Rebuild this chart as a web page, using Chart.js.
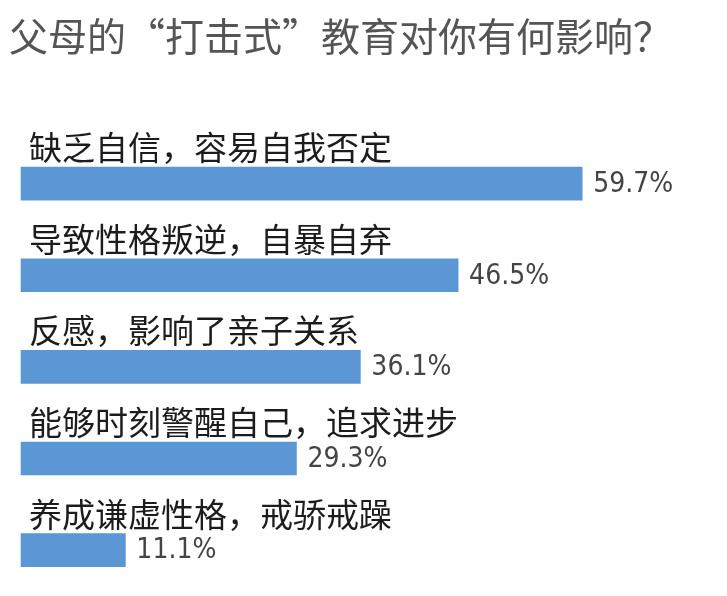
<!DOCTYPE html>
<html>
<head>
<meta charset="utf-8">
<script src="https://cdn.jsdelivr.net/npm/chart.js@4"></script>
<style>
  html, body { margin: 0; padding: 0; background: #fff; }
  #wrap { width: 727px; height: 596px; }
</style>
</head>
<body>
<div id="wrap"><canvas id="chart"></canvas></div>
<script>
const TITLE = '父母的“打击式”教育对你有何影响？';
const CATEGORIES = [
  '缺乏自信，容易自我否定',
  '导致性格叛逆，自暴自弃',
  '反感，影响了亲子关系',
  '能够时刻警醒自己，追求进步',
  '养成谦虚性格，戒骄戒躁',
];
const VALUES = [59.7, 46.5, 36.1, 29.3, 11.1];

const CJK = '"Noto Sans CJK SC", sans-serif';
const NARROW = '"Liberation Sans Narrow", "DejaVu Sans Condensed", "Roboto", sans-serif';

// 棒の上に項目名、右に数値を描く
const barLabels = {
  id: 'barLabels',
  afterDatasetsDraw(chart) {
    const { ctx } = chart;
    const meta = chart.getDatasetMeta(0);
    ctx.save();
    ctx.textBaseline = 'middle';
    meta.data.forEach((bar, i) => {
      ctx.font = `33px ${CJK}`;
      ctx.fillStyle = '#1c1c1c';
      ctx.textAlign = 'left';
      ctx.fillText(CATEGORIES[i], 29, bar.y - 36);

      ctx.font = `28px ${NARROW}`;
      if ('fontStretch' in ctx) ctx.fontStretch = 'condensed';
      ctx.fillStyle = '#444';
      ctx.fillText(VALUES[i].toFixed(1) + '%', bar.x + 11, bar.y + 1);
      if ('fontStretch' in ctx) ctx.fontStretch = 'normal';
    });
    ctx.restore();
  },
};

new Chart(document.getElementById('chart'), {
  type: 'bar',
  data: {
    labels: CATEGORIES,
    datasets: [{
      data: VALUES,
      backgroundColor: '#5a97d4',
      barThickness: 33,
    }],
  },
  options: {
    indexAxis: 'y',
    responsive: true,
    maintainAspectRatio: false,
    animation: false,
    layout: { padding: { left: 9, right: 48, top: 0, bottom: 0 } },
    plugins: {
      legend: { display: false },
      tooltip: { enabled: false },
      title: {
        display: true,
        text: TITLE,
        align: 'start',
        color: '#555',
        font: { family: CJK, size: 39, weight: 'normal', lineHeight: 1.2 },
        padding: { top: 13, bottom: 78 },
      },
    },
    scales: {
      // 左端を少し負にして、0 の位置を x=21 付近に合わせる
      x: { display: false, min: -1.28, max: 70 },
      y: { display: false },
    },
  },
  plugins: [barLabels],
});
</script>
</body>
</html>
